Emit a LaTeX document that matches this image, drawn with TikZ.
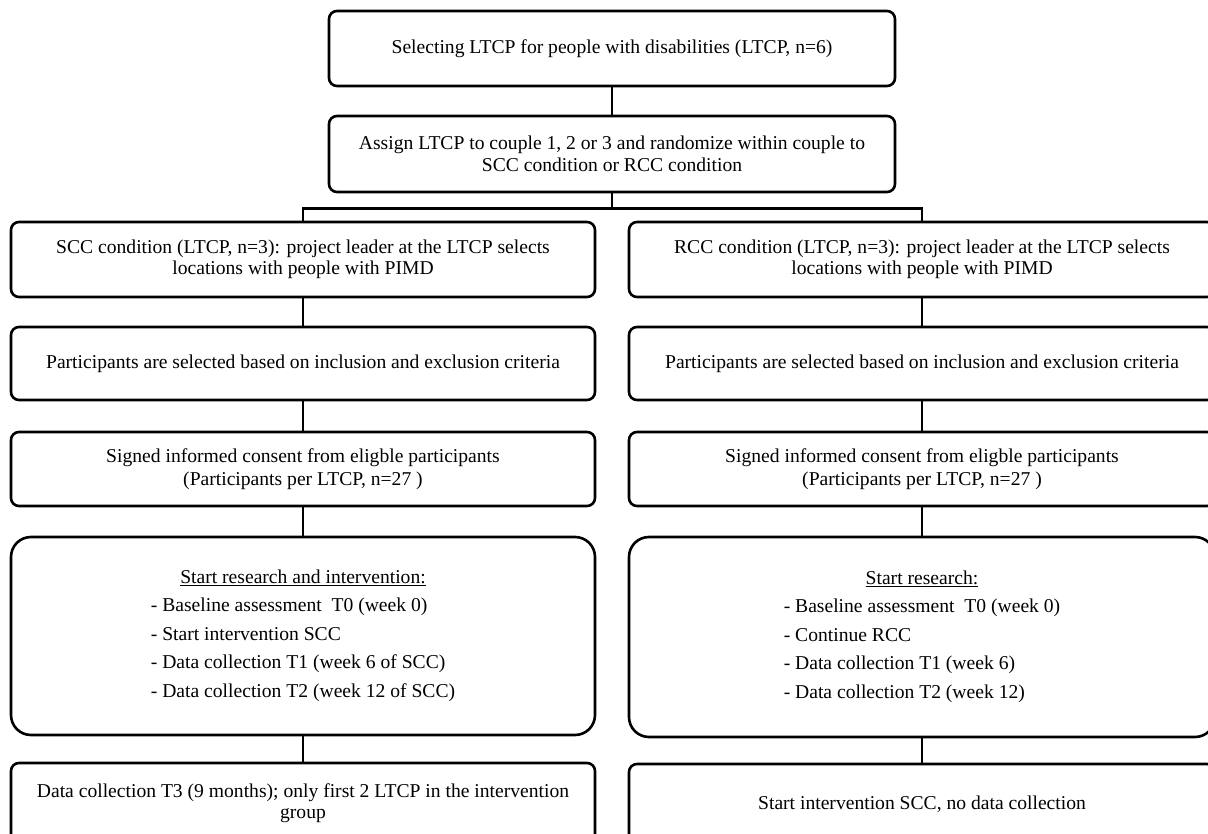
\documentclass[tikz,border=0pt]{standalone}
\usepackage{fontspec}
\setmainfont{Liberation Serif}
\newcommand\figfont{\fontsize{19.6}{21.5}\selectfont}
\tikzset{
  box/.style={draw, line width=2.6pt, rounded corners=8pt, align=center, font=\figfont, inner sep=0pt},
  bigbox/.style={box, rounded corners=20pt},
  conn/.style={line width=2.6pt}
}
\begin{document}
\begin{tikzpicture}[x=1pt,y=-1pt]
\useasboundingbox (0,0) rectangle (1208,834);
\fill[white] (0,0) rectangle (1208,834);
\clip (0,0) rectangle (1208,834);

\node[box, minimum width=566pt, minimum height=75pt] (top) at (612,48.5)
  {Selecting LTCP for people with disabilities (LTCP, n=6)};
\node[box, minimum width=566pt, minimum height=76pt] (assign) at (612,154)
  {Assign LTCP to couple 1, 2 or 3 and randomize within couple to\\SCC condition or RCC condition};

\node[box, minimum width=584pt, minimum height=75pt] (lcond) at (303,259.5)
  {SCC condition (LTCP, n=3): project leader at the LTCP selects\\locations with people with PIMD};
\node[box, minimum width=586pt, minimum height=75pt] (rcond) at (922,259.5)
  {RCC condition (LTCP, n=3): project leader at the LTCP selects\\locations with people with PIMD};

\node[box, minimum width=584pt, minimum height=73pt] (lpart) at (303,363.5)
  {Participants are selected based on inclusion and exclusion criteria};
\node[box, minimum width=586pt, minimum height=73pt] (rpart) at (922,363.5)
  {Participants are selected based on inclusion and exclusion criteria};

\node[box, minimum width=584pt, minimum height=74pt] (lsign) at (303,469)
  {Signed informed consent from eligble participants\\[2pt](Participants per LTCP, n=27 )};
\node[box, minimum width=586pt, minimum height=74pt] (rsign) at (922,469)
  {Signed informed consent from eligble participants\\[2pt](Participants per LTCP, n=27 )};

\node[bigbox, minimum width=584pt, minimum height=198pt] (lbig) at (303,636)
  {\begin{tabular}{@{}l@{}}
   \multicolumn{1}{c}{\underline{Start research and intervention:}}\\[7pt]
   - Baseline assessment\ \ T0 (week 0)\\[7pt]
   - Start intervention\ SCC\\[7pt]
   - Data collection T1 (week 6 of SCC)\\[7pt]
   - Data collection T2 (week 12 of SCC)
   \end{tabular}};
\node[bigbox, minimum width=586pt, minimum height=200pt] (rbig) at (922,637)
  {\begin{tabular}{@{}l@{}}
   \multicolumn{1}{c}{\underline{Start research:}}\\[7pt]
   - Baseline assessment\ \ T0 (week 0)\\[7pt]
   - Continue\ RCC\\[7pt]
   - Data collection T1 (week 6)\\[7pt]
   - Data collection T2 (week 12)
   \end{tabular}};

\node[box, minimum width=584pt, minimum height=80pt] (lend) at (303,803)
  {Data collection T3 (9 months); only first 2 LTCP in the intervention\\group};
\node[box, minimum width=586pt, minimum height=80pt] (rend) at (922,804)
  {Start intervention SCC, no data collection};

\draw[conn] (top) -- (assign);
\draw[conn] (assign.south) -- ++(0,15) coordinate (bus);
\draw[conn] (bus) -| (lcond.north);
\draw[conn] (bus) -| (rcond.north);
\draw[conn] (lcond) -- (lpart);
\draw[conn] (lpart) -- (lsign);
\draw[conn] (lsign) -- (lbig);
\draw[conn] (lbig) -- (lend);
\draw[conn] (rcond) -- (rpart);
\draw[conn] (rpart) -- (rsign);
\draw[conn] (rsign) -- (rbig);
\draw[conn] (rbig) -- (rend);
\end{tikzpicture}
\end{document}
